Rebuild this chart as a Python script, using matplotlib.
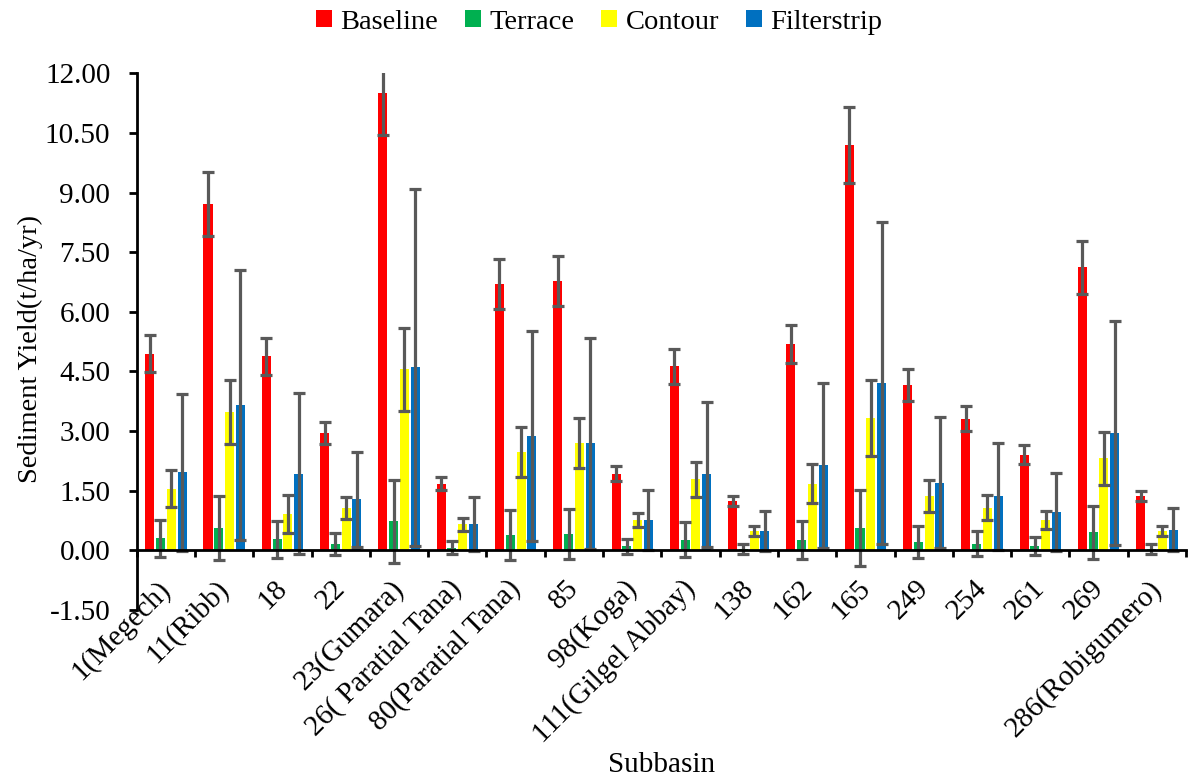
"""Sediment yield per subbasin under the four management scenarios."""

import matplotlib

matplotlib.use("Agg")
import matplotlib.pyplot as plt
import matplotlib.transforms as mtransforms
import numpy as np
from matplotlib.ticker import FixedLocator, FormatStrFormatter

# Subbasins shown on the x axis
subbasins = [
    "1(Megech)", "11(Ribb)", "18", "22", "23(Gumara)", "26( Paratial Tana)",
    "80(Paratial Tana)", "85", "98(Koga)", "111(Gilgel Abbay)", "138", "162",
    "165", "249", "254", "261", "269", "286(Robigumero)",
]

# Sediment yield (t/ha/yr)
baseline = [4.95, 8.71, 4.88, 2.96, 11.50, 1.68, 6.71, 6.77, 1.93,
            4.63, 1.24, 5.18, 10.20, 4.15, 3.31, 2.41, 7.12, 1.36]
terrace = [0.30, 0.56, 0.28, 0.15, 0.73, 0.07, 0.38, 0.40, 0.10,
           0.27, 0.04, 0.27, 0.57, 0.21, 0.17, 0.10, 0.45, 0.04]
contour = [1.55, 3.48, 0.91, 1.07, 4.55, 0.65, 2.47, 2.69, 0.76,
           1.79, 0.49, 1.68, 3.33, 1.36, 1.07, 0.76, 2.31, 0.49]
filterstrip = [1.96, 3.65, 1.93, 1.28, 4.60, 0.67, 2.87, 2.69, 0.76,
               1.91, 0.49, 2.14, 4.22, 1.70, 1.36, 0.96, 2.95, 0.52]

# error bars: baseline / terrace / contour share the same size
err_scenario = [0.47, 0.80, 0.47, 0.28, 1.05, 0.16, 0.63, 0.63, 0.18,
                0.44, 0.12, 0.48, 0.96, 0.40, 0.31, 0.23, 0.67, 0.13]
err_filterstrip = [1.97, 3.39, 2.03, 1.19, 4.50, 0.68, 2.64, 2.66, 0.76,
                   1.82, 0.50, 2.07, 4.05, 1.65, 1.34, 0.98, 2.81, 0.54]

series = [
    ("Baseline", baseline, err_scenario, "#FF0000"),
    ("Terrace", terrace, err_scenario, "#00B050"),
    ("Contour", contour, err_scenario, "#FFFF00"),
    ("Filterstrip", filterstrip, err_filterstrip, "#0070C0"),
]

plt.rcParams["font.family"] = ["Liberation Serif", "DejaVu Serif"]
plt.rcParams["font.size"] = 21

fig = plt.figure(figsize=(11.91, 7.82), dpi=100)
ax = fig.add_axes([0.1148, 0.22, 0.881, 0.6863])

x = np.arange(len(subbasins))
step = 0.185
width = 0.155
for i, (name, vals, errs, color) in enumerate(series):
    ax.bar(x + (i - 1.5) * step, vals, width, color=color, label=name,
           yerr=errs,
           error_kw=dict(ecolor="#595959", elinewidth=2.3, capsize=4.3,
                         capthick=2.3))

ax.set_xlim(-0.5, len(subbasins) - 0.5)
ax.set_ylim(-1.5, 12.0)
ax.set_yticks(np.arange(-1.5, 12.01, 1.5))
ax.yaxis.set_major_formatter(FormatStrFormatter("%.2f"))
ax.tick_params(axis="y", direction="out", length=6, width=2, pad=13)

# category axis sits on y = 0, ticks between categories, labels at centres
ax.spines["bottom"].set_position(("data", 0))
ax.spines["top"].set_visible(False)
ax.spines["right"].set_visible(False)
ax.spines["left"].set_linewidth(2)
ax.spines["bottom"].set_linewidth(2)
ax.xaxis.set_major_locator(FixedLocator(np.arange(-0.5, len(subbasins), 1.0)))
ax.xaxis.set_major_formatter(plt.NullFormatter())
ax.xaxis.set_minor_locator(FixedLocator(x))
ax.set_xticklabels(subbasins, minor=True, rotation=45, ha="right")
ax.tick_params(axis="x", which="major", direction="out", length=5, width=2)
ax.tick_params(axis="x", which="minor", length=0, pad=18)
shift = mtransforms.ScaledTranslation(0.10, 0, fig.dpi_scale_trans)
for lab in ax.get_xticklabels(minor=True):
    lab.set_transform(lab.get_transform() + shift)

ax.set_xlabel("Subbasin")
ax.xaxis.set_label_coords(0.5, -0.265)
ax.set_ylabel("Sediment Yield(t/ha/yr)", fontsize=20.5)
ax.yaxis.set_label_coords(-0.089, 0.486)

fig.legend(loc="upper center", bbox_to_anchor=(0.503, 1.006), ncol=4,
           frameon=False, fontsize=20.5, handlelength=0.55, handleheight=0.55,
           handletextpad=0.3, columnspacing=0.95, borderaxespad=0.1)

fig.savefig("out.png", dpi=100)
plt.close(fig)
